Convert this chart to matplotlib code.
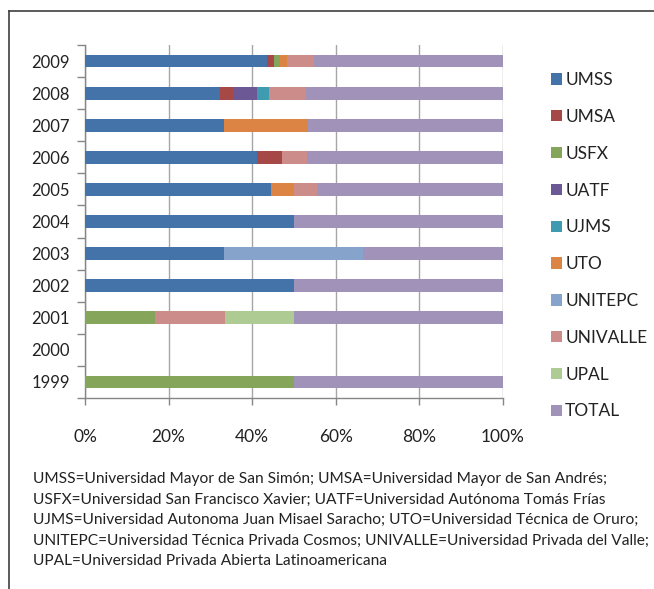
import matplotlib.pyplot as plt
import matplotlib.ticker as mticker
import numpy as np

# data (percent of each year's bar)
years = ['1999', '2000', '2001', '2002', '2003', '2004', '2005', '2006', '2007', '2008', '2009']
series = ['UMSS', 'UMSA', 'USFX', 'UATF', 'UJMS', 'UTO', 'UNITEPC', 'UNIVALLE', 'UPAL', 'TOTAL']
umss     = [0, 0, 0, 50, 33.3, 50, 44.4, 41.2, 33.3, 32.4, 43.5]
umsa     = [0, 0, 0, 0, 0, 0, 0, 5.9, 0, 2.9, 1.6]
usfx     = [50, 0, 16.7, 0, 0, 0, 0, 0, 0, 0, 1.6]
uatf     = [0, 0, 0, 0, 0, 0, 0, 0, 0, 5.9, 0]
ujms     = [0, 0, 0, 0, 0, 0, 0, 0, 0, 2.9, 0]
uto      = [0, 0, 0, 0, 0, 0, 5.6, 0, 20.0, 0, 1.6]
unitepc  = [0, 0, 0, 0, 33.3, 0, 0, 0, 0, 0, 0]
univalle = [0, 0, 16.7, 0, 0, 0, 5.6, 5.9, 0, 8.8, 6.5]
upal     = [0, 0, 16.7, 0, 0, 0, 0, 0, 0, 0, 0]
total    = [50, 0, 50, 50, 33.3, 50, 44.4, 47.1, 46.7, 47.1, 45.2]
values = [umss, umsa, usfx, uatf, ujms, uto, unitepc, univalle, upal, total]

colors = ['#4373A8', '#A54846', '#84A55A', '#6C5895', '#3E9BB0',
          '#DC8443', '#86A3CC', '#CC8C8A', '#AECB94', '#A092B8']

caption = ("UMSS=Universidad Mayor de San Simón; UMSA=Universidad Mayor de San Andrés;\n"
           "USFX=Universidad San Francisco Xavier; UATF=Universidad Autónoma Tomás Frías\n"
           "UJMS=Universidad Autonoma Juan Misael Saracho; UTO=Universidad Técnica de Oruro;\n"
           "UNITEPC=Universidad Técnica Privada Cosmos; UNIVALLE=Universidad Privada del Valle;\n"
           "UPAL=Universidad Privada Abierta Latinoamericana")

plt.rcParams['font.family'] = ['Lato', 'DejaVu Sans']

fig = plt.figure(figsize=(6.54, 5.89), dpi=100)
ax = fig.add_axes([85/654, 1-398/589, 418/654, 353/589])

y = np.arange(len(years))
left = np.zeros(len(years))
for name, vals, col in zip(series, values, colors):
    vals = np.array(vals, dtype=float)
    ax.barh(y, vals, left=left, height=0.4, color=col, label=name, zorder=3)
    left += vals

ax.set_xlim(0, 100)
ax.set_ylim(-0.5, len(years)-0.5)
ax.xaxis.set_major_locator(mticker.MultipleLocator(20))
ax.xaxis.set_major_formatter(mticker.PercentFormatter(decimals=0))
ax.grid(axis='x', color='#A6A6A6', lw=1, zorder=0)

# category labels at bar centres, tick marks between categories
ax.set_yticks(y)
ax.set_yticklabels(years)
ax.set_yticks(np.arange(-0.5, len(years), 1), minor=True)
ax.tick_params(axis='y', which='major', length=0, pad=11, labelsize=12, colors='#222222')
ax.tick_params(axis='y', which='minor', length=6, width=1, color='#868686')
ax.tick_params(axis='x', length=5, width=1, color='#868686', pad=17, labelsize=12.5, labelcolor='#222222')

for s in ['top', 'right']:
    ax.spines[s].set_visible(False)
for s in ['left', 'bottom']:
    ax.spines[s].set_color('#868686')
    ax.spines[s].set_linewidth(1)

leg = ax.legend(loc='upper left', bbox_to_anchor=(551/654, 1-72/589), bbox_transform=fig.transFigure,
                frameon=False, fontsize=12.5, handlelength=0.62, handleheight=0.62,
                handletextpad=0.2, labelspacing=1.2, borderpad=0, borderaxespad=0)
for t in leg.get_texts():
    t.set_color('#222222')

fig.text(33/654, 1-472/589, caption, ha='left', va='top', fontsize=11.2,
         color='#222222', linespacing=1.6, transform=fig.transFigure)

# frame lines (top and left) around the figure
fig.add_artist(plt.Line2D([9/654, 1], [1-11/589, 1-11/589], color='#404040', lw=1.2))
fig.add_artist(plt.Line2D([9/654, 9/654], [0, 1-11/589], color='#404040', lw=1.2))

fig.savefig('out.png', dpi=100)
